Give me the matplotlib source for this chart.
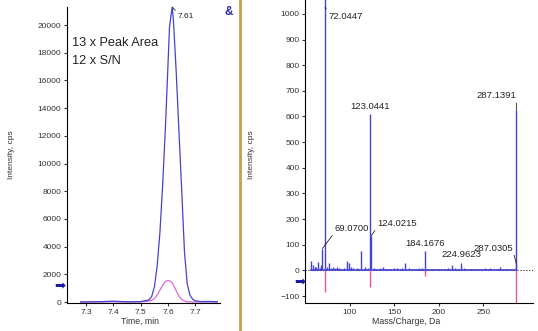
import matplotlib
matplotlib.use("Agg")
import matplotlib.pyplot as plt
from matplotlib.lines import Line2D

plt.rcParams['font.family'] = ['Liberation Sans', 'DejaVu Sans']

# --- extracted ion chromatogram (left) ---
chrom_time = [7.28, 7.30, 7.35, 7.40, 7.45, 7.50, 7.53, 7.54, 7.55, 7.56,
              7.57, 7.58, 7.59, 7.60, 7.605, 7.61, 7.615, 7.62, 7.63, 7.64,
              7.65, 7.66, 7.67, 7.68, 7.69, 7.70, 7.72, 7.75, 7.78]
xic_blue = [0, 10, 20, 60, 10, 30, 150, 400, 1100, 2600,
            5000, 8400, 12500, 17300, 19800, 20600, 21300, 20200, 16500, 12200,
            8000, 3600, 1300, 500, 200, 80, 30, 40, 20]
xic_pink = [0, 0, 5, 10, 0, 10, 60, 120, 250, 500,
            850, 1200, 1480, 1560, 1540, 1480, 1380, 1200, 800, 420,
            180, 60, 20, 10, 5, 0, 0, 0, 0]
apex_time = 7.615
apex_label = "7.61"
chrom_yticks = [0, 2000, 4000, 6000, 8000, 10000, 12000, 14000, 16000, 18000, 20000]
chrom_xticks = [7.3, 7.4, 7.5, 7.6, 7.7]

# --- MS/MS spectrum (right) ---
ms_mz = [56.3, 58.5, 60.5, 62.0, 64.2, 66.0, 67.2, 69.07, 72.0447, 74.0,
         76.2, 78.5, 81.2, 83.0, 85.2, 88.0, 90.5, 93.0, 96.4, 99.0,
         101.3, 104.0, 107.6, 110.0, 112.5, 117.0, 120.0, 123.0441, 124.0215, 127.0,
         130.0, 134.0, 137.0, 141.0, 145.0, 149.0, 152.6, 156.0, 159.0, 162.0,
         166.0, 170.0, 174.0, 178.0, 181.0, 184.1676, 188.0, 192.0, 195.7, 200.0,
         205.7, 210.0, 214.4, 218.0, 221.0, 224.9623, 228.0, 231.0, 236.0, 242.5,
         247.0, 251.8, 254.0, 257.5, 262.0, 266.0, 268.7, 272.0, 277.0, 281.0,
         284.0, 287.0305, 287.1391]
ms_int = [35, 20, 12, 15, 33, 10, 20, 85, 1200, 12,
          27, 10, 15, 8, 12, 10, 6, 8, 35, 30,
          15, 8, 10, 6, 74, 12, 8, 610, 135, 10,
          6, 8, 12, 6, 5, 8, 10, 6, 10, 27,
          8, 6, 5, 8, 10, 75, 6, 5, 6, 5,
          6, 8, 22, 10, 6, 27, 8, 6, 5, 5,
          6, 10, 6, 8, 5, 6, 15, 5, 6, 5,
          6, 26, 625]
ref_mz = [72.0447, 123.0441, 184.1676, 287.1391]
ref_int = [-85, -65, -20, -135]
ms_yticks = [-100, 0, 100, 200, 300, 400, 500, 600, 700, 800, 900, 1000]
ms_xticks = [100, 150, 200, 250]

# labelled peaks: text, offset in points, ha, va, leader
ms_labels = [
    (72.0447, 1025, "72.0447", (2.6, -3.0), "left", "top", True),
    (69.07, 85, "69.0700", (8.6, 11.5), "left", "bottom", True),
    (123.0441, 610, "123.0441", (0, 2), "center", "bottom", False),
    (124.0215, 135, "124.0215", (4.0, 5.8), "left", "bottom", True),
    (184.1676, 75, "184.1676", (0, 2), "center", "bottom", False),
    (224.9623, 27, "224.9623", (0, 3), "center", "bottom", False),
    (287.0305, 26, "287.0305", (-2.0, 8), "right", "bottom", True),
    (287.1391, 625, "287.1391", (0, 7), "right", "bottom", True),
]

blue = '#4343cf'
pink_xic = '#dd6ad2'
pink_ms = '#e2559d'

fig = plt.figure(figsize=(5.38, 3.31), dpi=100)

# left panel
ax1 = fig.add_axes([67 / 538, 1 - 303 / 331, 153 / 538, 296 / 331])
ax1.plot(chrom_time, xic_pink, color=pink_xic, lw=0.9)
ax1.plot(chrom_time, xic_blue, color=blue, lw=0.9)
ax1.set_xlim(7.23, 7.79)
ax1.set_ylim(-72, 21300)
ax1.set_xticks(chrom_xticks)
ax1.set_yticks(chrom_yticks)
ax1.spines['top'].set_visible(False)
ax1.spines['right'].set_visible(False)
ax1.tick_params(labelsize=6, length=2.5, width=0.8, pad=1.5, colors='#333333')
ax1.set_xlabel("Time, min", fontsize=6.3, color='#333333')
ax1.set_ylabel("Intensity, cps", fontsize=6, color='#333333')
ax1.xaxis.set_label_coords(0.477, -0.045)
ax1.yaxis.set_label_coords(-0.34, 0.5)

apex_int = xic_blue[chrom_time.index(apex_time)]
ax1.annotate(apex_label, xy=(apex_time, apex_int), xytext=(4, -4.5),
             textcoords='offset points', ha='left', va='top', fontsize=6,
             color='#222222', annotation_clip=False,
             arrowprops=dict(arrowstyle='-', lw=0.6, color='#222222',
                             shrinkA=0, shrinkB=0, relpos=(0, 1)))
fig.text(72 / 538, 1 - 43.5 / 331, "13 x Peak Area", fontsize=9.2,
         va='center', ha='left', color='#222222')
fig.text(72 / 538, 1 - 60.5 / 331, "12 x S/N", fontsize=9.2,
         va='center', ha='left', color='#222222')

# right panel
ax2 = fig.add_axes([305 / 538, 1 - 303 / 331, 228 / 538, 303 / 331])
ax2.axhline(0, color='#222222', lw=0.8, ls=':', zorder=1)
ax2.plot([ms_mz[0], ms_mz[-1]], [0, 0], color=blue, lw=1.2, zorder=2)
ax2.vlines(ms_mz, 0, ms_int, color=blue, lw=1.0, zorder=3)
ax2.vlines(ref_mz, 0, ref_int, color=pink_ms, lw=1.0, zorder=3)
ax2.set_xlim(49.5, 305.8)
ax2.set_ylim(-127, 1054)
ax2.set_xticks(ms_xticks)
ax2.set_yticks(ms_yticks)
ax2.spines['top'].set_visible(False)
ax2.spines['right'].set_visible(False)
ax2.tick_params(labelsize=6, length=2.5, width=0.8, pad=1.5, colors='#333333')
ax2.set_xlabel("Mass/Charge, Da", fontsize=6.3, color='#333333')
ax2.set_ylabel("Intensity, cps", fontsize=6, color='#333333')
ax2.xaxis.set_label_coords(0.443, -0.045)
ax2.yaxis.set_label_coords(-0.22, 0.49)

for mz, yy, txt, off, ha, va, leader in ms_labels:
    rel = (0 if ha == 'left' else (1 if ha == 'right' else 0.5),
           1 if va == 'top' else 0)
    props = None
    if leader:
        props = dict(arrowstyle='-', lw=0.6, color='#222222',
                     shrinkA=0, shrinkB=0, relpos=rel)
    ax2.annotate(txt, xy=(mz, yy), xytext=off, textcoords='offset points',
                 ha=ha, va=va, fontsize=6.8, color='#222222',
                 arrowprops=props)

# arrows at the y-axes, ampersand and divider
fig.text(60 / 538, 1 - 287 / 331, "\u27a1", fontsize=9.5, color='#1a1aa0',
         ha='center', va='center', family='DejaVu Sans')
fig.text(300 / 538, 1 - 283 / 331, "\u27a1", fontsize=9.5, color='#1a1aa0',
         ha='center', va='center', family='DejaVu Sans')
fig.text(229 / 538, 1 - 12 / 331, "&", fontsize=8.5, fontweight='bold',
         color='#2a2aa8', ha='center', va='center')
fig.add_artist(Line2D([240 / 538, 240 / 538], [0, 1], color='#c9a04a',
                      lw=2, transform=fig.transFigure))

fig.savefig("out.png", dpi=100)
